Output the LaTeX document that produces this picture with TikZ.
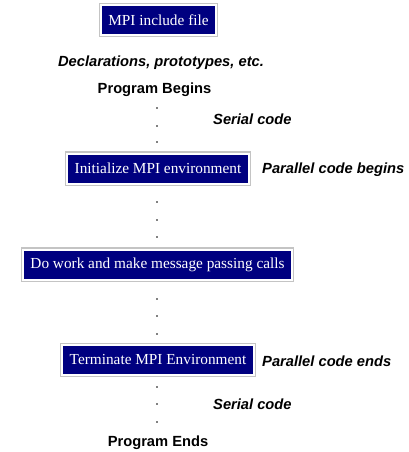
\documentclass[tikz,border=0pt]{standalone}
\usepackage{fontspec}
\setmainfont{Liberation Serif}
\newfontfamily\labelfont{Liberation Sans}
\definecolor{mpinavy}{HTML}{000080}
\definecolor{framegray}{HTML}{C4C4C4}
\tikzset{
  mpibox/.style={fill=mpinavy, text=white, draw=white, line width=2pt,
    preaction={draw=framegray, line width=4.6pt},
    minimum height=30pt, inner xsep=7.5pt, inner ysep=0pt,
    font=\fontsize{15.3}{15.3}\selectfont},
  plainlabel/.style={font=\labelfont\bfseries\fontsize{14.7}{14.7}\selectfont},
  slantlabel/.style={font=\labelfont\bfseries\itshape\fontsize{14.7}{14.7}\selectfont},
}
\begin{document}
\begin{tikzpicture}[x=1pt,y=-1pt]
                \useasboundingbox (0,0) rectangle (408,452);
                
                % Drawing box include
                \node [mpibox] (include) at (158.5,20) {MPI include file};%
                
                % Marking declarations
                \node [slantlabel] (decl) at (161,62.5) {Declarations, prototypes, etc.};%
                \node [plainlabel] (begins) at (154.5,89.5) {Program Begins};%
                
                % Marking serial code
                \node [slantlabel, anchor=west, inner sep=0pt] (serialA) at (213,119) {Serial code};%
                
                % Drawing box init
                \node [mpibox] (init) at (158,168.5) {Initialize MPI environment};%
                \node [slantlabel, anchor=west, inner sep=0pt] (parbegin) at (262,170) {Parallel code begins};%
                
                % Drawing box work
                \node [mpibox] (work) at (157.5,264.5) {Do work and make message passing calls};%
                
                % Drawing box finalize
                \node [mpibox] (final) at (158,360) {Terminate MPI Environment};%
                \node [slantlabel, anchor=west, inner sep=0pt] (parend) at (262,361) {Parallel code ends};%
                
                % Marking serial code
                \node [slantlabel, anchor=west, inner sep=0pt] (serialB) at (213,404) {Serial code};%
                \node [plainlabel] (ends) at (158,442.5) {Program Ends};%
                
                % Drawing dots
                \foreach \y in {108,126,142,202,220,237,299,316,334,387,404,422}
                  \fill (157,\y) circle (0.9);%
\end{tikzpicture}
\end{document}
